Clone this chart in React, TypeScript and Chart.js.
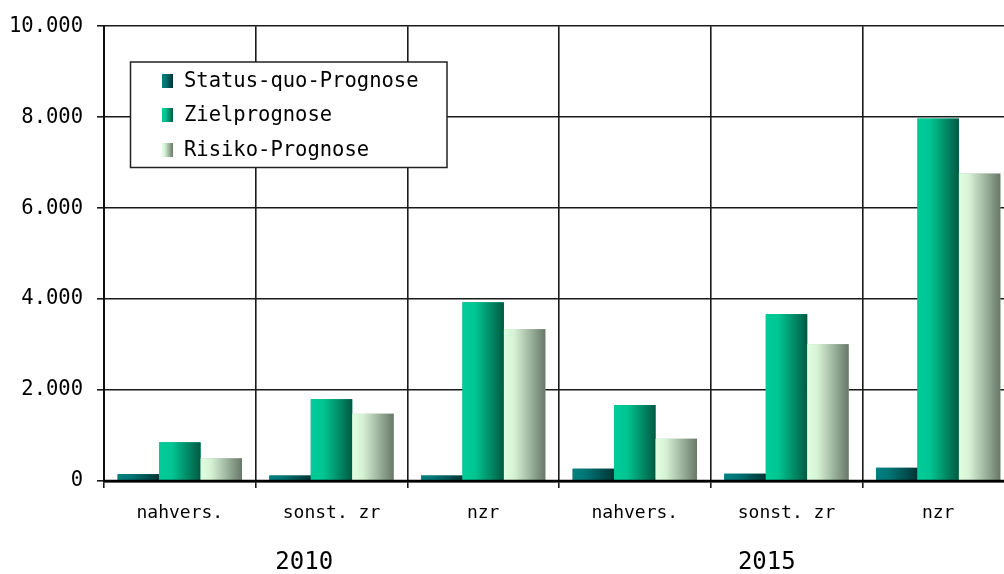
import React, { useEffect, useRef } from 'react';
import { Chart, registerables } from 'chart.js';

Chart.register(...registerables);

const categories = ['nahvers.', 'sonst. zr', 'nzr', 'nahvers.', 'sonst. zr', 'nzr'];
const years = ['2010', '2015'];
const yearCenters = [0.82, 3.87];
const seriesNames = ['Status-quo-Prognose', 'Zielprognose', 'Risiko-Prognose'];
const statusQuo = [150, 120, 120, 270, 160, 290];
const ziel = [850, 1800, 3930, 1670, 3670, 7970];
const risiko = [500, 1480, 3340, 930, 3010, 6760];
const yMax = 10000;
const yStep = 2000;

const baseColors = ['#006a6a', '#00a87c', '#b0c8b0'];
const gradientStops: [number, string][][] = [
  [[0, '#008080'], [0.3, '#007676'], [1, '#003434']],
  [[0, '#00cc99'], [0.3, '#00c693'], [1, '#005a42']],
  [[0, '#e0ffe0'], [0.25, '#d6f2d6'], [1, '#687868']],
];

const FONT = "'DejaVu Sans Mono', monospace";

const fmt = (v: number) => String(v).replace(/\B(?=(\d{3})+(?!\d))/g, '.');

const makeGradient = (ctx: CanvasRenderingContext2D, left: number, width: number, di: number) => {
  const g = ctx.createLinearGradient(left, 0, left + width, 0);
  gradientStops[di].forEach(([o, c]) => g.addColorStop(o, c));
  return g;
};

const decorPlugin = {
  id: 'decor',
  afterDatasetsDraw(chart: any) {
    const ctx: CanvasRenderingContext2D = chart.ctx;
    ctx.save();
    chart.data.datasets.forEach((_ds: any, di: number) => {
      const meta = chart.getDatasetMeta(di);
      meta.data.forEach((el: any) => {
        const { x, y, base, width } = el.getProps(['x', 'y', 'base', 'width'], true);
        const left = x - width / 2;
        ctx.fillStyle = makeGradient(ctx, left, width, di);
        ctx.fillRect(left, y, width, base - y);
      });
    });
    // redraw the zero axis line over bars
    const ys = chart.scales.y;
    const area = chart.chartArea;
    const y0 = ys.getPixelForValue(0);
    ctx.strokeStyle = '#000';
    ctx.lineWidth = 2.5;
    ctx.beginPath();
    ctx.moveTo(area.left, y0);
    ctx.lineTo(area.right, y0);
    ctx.stroke();
    ctx.restore();
  },
  afterDraw(chart: any) {
    const ctx: CanvasRenderingContext2D = chart.ctx;
    ctx.save();
    // legend box
    const bx = 130.5, by = 62, bw = 316.5, bh = 105.5;
    ctx.fillStyle = '#fff';
    ctx.fillRect(bx, by, bw, bh);
    ctx.strokeStyle = '#222';
    ctx.lineWidth = 1.5;
    ctx.strokeRect(bx, by, bw, bh);
    const rows = [81, 115, 150];
    ctx.font = `20.5px ${FONT}`;
    ctx.textBaseline = 'middle';
    ctx.textAlign = 'left';
    seriesNames.forEach((name, i) => {
      const sx = 162, sw = 11, sh = 14;
      ctx.fillStyle = makeGradient(ctx, sx, sw, i);
      ctx.fillRect(sx, rows[i] - sh / 2, sw, sh);
      ctx.fillStyle = '#000';
      ctx.fillText(name, 184, rows[i] + 1);
    });
    // year labels
    const xs = chart.scales.x;
    ctx.font = `24px ${FONT}`;
    ctx.textAlign = 'center';
    ctx.textBaseline = 'middle';
    ctx.fillStyle = '#000';
    years.forEach((yr, i) => {
      ctx.fillText(yr, xs.getPixelForValue(yearCenters[i]), 563);
    });
    ctx.restore();
  },
};

export default function App() {
  const ref = useRef<HTMLCanvasElement | null>(null);
  useEffect(() => {
    if (!ref.current) return;
    const chart = new Chart(ref.current, {
      type: 'bar',
      data: {
        labels: categories,
        datasets: [
          { label: seriesNames[0], data: statusQuo, backgroundColor: baseColors[0] },
          { label: seriesNames[1], data: ziel, backgroundColor: baseColors[1] },
          { label: seriesNames[2], data: risiko, backgroundColor: baseColors[2] },
        ],
      },
      options: {
        responsive: false,
        animation: false,
        events: [],
        layout: { padding: { top: 25, left: 0, right: 0, bottom: 0 } },
        datasets: { bar: { categoryPercentage: 0.82, barPercentage: 1.0 } },
        plugins: { legend: { display: false }, tooltip: { enabled: false } },
        scales: {
          x: {
            afterFit: (s: any) => { s.height = 93; },
            grid: { offset: true, color: '#1a1a1a', lineWidth: 1.6, tickLength: 7, drawTicks: true },
            border: { display: true, color: '#000', width: 2.5 },
            ticks: { color: '#000', font: { family: FONT, size: 18 }, padding: 15, maxRotation: 0, autoSkip: false },
          },
          y: {
            min: 0,
            max: yMax,
            afterFit: (s: any) => { s.width = 104; },
            grid: { color: '#1a1a1a', lineWidth: 1.6, tickLength: 7, drawTicks: true },
            border: { display: true, color: '#111', width: 2 },
            ticks: { stepSize: yStep, color: '#000', font: { family: FONT, size: 20.5 }, padding: 14, callback: (v: any) => fmt(Number(v)) },
          },
        },
      },
      plugins: [decorPlugin],
    });
    return () => chart.destroy();
  }, []);
  return (
    <div style={{ position: 'fixed', left: 0, top: 0, width: 1004, height: 574, overflow: 'hidden', background: '#fff' }}>
      <canvas ref={ref} width={1014} height={574} style={{ display: 'block', width: 1014, height: 574 }} />
    </div>
  );
}
